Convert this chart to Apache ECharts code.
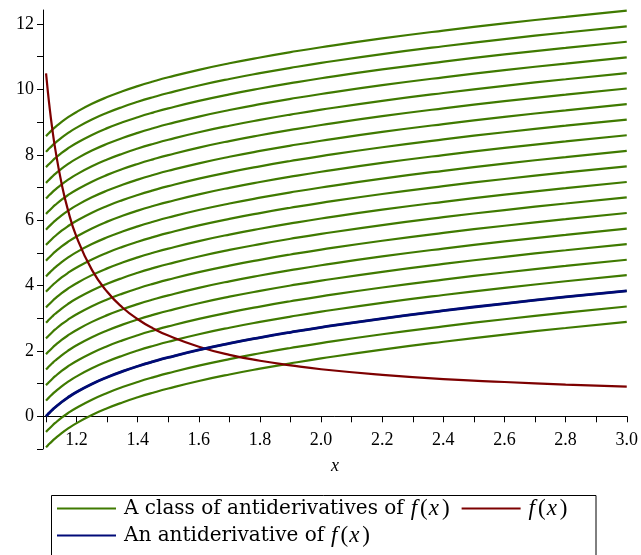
<!DOCTYPE html>
<html>
<head>
<meta charset="utf-8">
<script src="https://cdn.jsdelivr.net/npm/echarts@6/dist/echarts.min.js"></script>
<style>
html, body { margin: 0; padding: 0; background: #fff; }
#chart { width: 641px; height: 555px; }
</style>
</head>
<body>
<div id="chart"></div>
<script>
// sample points along x
var xs = [1.1, 1.105, 1.11, 1.12, 1.13, 1.15, 1.17, 1.2, 1.25, 1.3, 1.35, 1.4, 1.45, 1.5, 1.6, 1.7, 1.8, 1.9, 2.0, 2.2, 2.4, 2.6, 2.8, 3.0];
// the antiderivative (blue), starts at 0
var anti = [0, 0.051, 0.100, 0.192, 0.277, 0.430, 0.565, 0.742, 0.989, 1.196, 1.374, 1.531, 1.672, 1.801, 2.030, 2.230, 2.408, 2.571, 2.721, 2.991, 3.231, 3.450, 3.651, 3.839];
// f(x) (dark red)
var fvals = [10.49, 10.02, 9.58, 8.82, 8.18, 7.16, 6.37, 5.48, 4.48, 3.81, 3.33, 2.97, 2.69, 2.47, 2.13, 1.88, 1.70, 1.56, 1.44, 1.27, 1.14, 1.05, 0.97, 0.91];
// vertical shifts of the green family
var shifts = [-0.95, -0.48, 0, 0.48, 0.95, 1.43, 1.9, 2.38, 2.86, 3.33, 3.81, 4.28, 4.76, 5.24, 5.71, 6.19, 6.66, 7.14, 7.62, 8.09, 8.57];
// ticks and tick labels
var xLabels = [1.2, 1.4, 1.6, 1.8, 2.0, 2.2, 2.4, 2.6, 2.8, 3.0];
var xTicks = [1.1, 1.2, 1.3, 1.4, 1.5, 1.6, 1.7, 1.8, 1.9, 2.0, 2.1, 2.2, 2.3, 2.4, 2.5, 2.6, 2.7, 2.8, 2.9, 3.0];
var yLabels = [0, 2, 4, 6, 8, 10, 12];
var yTicks = [-1, 0, 1, 2, 3, 4, 5, 6, 7, 8, 9, 10, 11, 12];

var NAME_CLASS = 'A class of antiderivatives of f(x)';
var NAME_F = 'f(x)';
var NAME_ANTI = 'An antiderivative of f(x)';

var SERIF = 'Liberation Serif';
var LEG_FONT = 'DejaVu Serif';
var GREEN = '#3f7a00';
var RED = '#7d0000';
var BLUE = '#000a78';

var Y_MIN = -1, Y_MAX = 12.43;
var GRID_TOP = 10, GRID_BOTTOM = 106;

var chart = echarts.init(document.getElementById('chart'));

var series = [];
for (var k = 0; k < shifts.length; k++) {
	var d = [];
	for (var i = 0; i < xs.length; i++) {
		d.push([xs[i], anti[i] + shifts[k]]);
	}
	series.push({
		name: NAME_CLASS,
		type: 'line',
		data: d,
		symbol: 'none',
		smooth: true,
		lineStyle: {color: GREEN, width: 2.2},
		itemStyle: {color: GREEN}
	});
}
series.push({
	name: NAME_F,
	type: 'line',
	data: xs.map(function(x, i){ return [x, fvals[i]]; }),
	symbol: 'none',
	smooth: true,
	lineStyle: {color: RED, width: 2.2},
	itemStyle: {color: RED}
});
series.push({
	name: NAME_ANTI,
	type: 'line',
	data: xs.map(function(x, i){ return [x, anti[i]]; }),
	symbol: 'none',
	smooth: true,
	lineStyle: {color: BLUE, width: 2.8},
	itemStyle: {color: BLUE}
});

var legendText = {
	fontFamily: LEG_FONT,
	fontSize: 20,
	color: '#000',
	rich: {
		t: {fontFamily: LEG_FONT, fontSize: 20, color: '#000', padding: [0, 7, 0, 3]},
		f0: {fontFamily: SERIF, fontStyle: 'italic', fontSize: 23, color: '#000', padding: [0, 3, 0, 3]},
		f: {fontFamily: SERIF, fontStyle: 'italic', fontSize: 23, color: '#000', padding: [0, 3, 0, 0]},
		i: {fontFamily: SERIF, fontStyle: 'italic', fontSize: 23, color: '#000', padding: [0, 3, 0, 1]},
		n: {fontFamily: SERIF, fontSize: 23, color: '#000'}
	}
};
function legendFmt(name){
	var head = name.replace(' f(x)', '').replace('f(x)', '');
	if (head) {
		return '{t|' + head + '}{f|f}{n|(}{i|x}{n|)}';
	}
	return '{f0|f}{n|(}{i|x}{n|)}';
}

// x axis sits on y = 0: shift it up from the grid bottom
var plotH = 555 - GRID_TOP - GRID_BOTTOM;
var zeroOffset = plotH * (0 - Y_MIN) / (Y_MAX - Y_MIN);

var option = {
	animation: false,
	backgroundColor: '#fff',
	grid: {left: 43, right: 8, top: GRID_TOP, bottom: GRID_BOTTOM},
	xAxis: {
		type: 'value',
		min: 1.09,
		max: 3.0,
		offset: -zeroOffset,
		name: 'x',
		nameLocation: 'middle',
		nameGap: 41,
		nameTextStyle: {fontFamily: SERIF, fontStyle: 'italic', fontSize: 18, color: '#000'},
		axisLine: {show: true, onZero: false, lineStyle: {color: '#000', width: 1}},
		axisTick: {show: true, length: 6, customValues: xTicks, lineStyle: {color: '#000'}},
		axisLabel: {
			customValues: xLabels,
			margin: 15,
			fontFamily: SERIF,
			fontSize: 18,
			color: '#000',
			formatter: function(v){ return v.toFixed(1); }
		},
		splitLine: {show: false}
	},
	yAxis: {
		type: 'value',
		min: Y_MIN,
		max: Y_MAX,
		axisLine: {show: true, lineStyle: {color: '#000', width: 1}},
		axisTick: {show: true, length: 6, customValues: yTicks, lineStyle: {color: '#000'}},
		axisLabel: {customValues: yLabels, margin: 9, fontFamily: SERIF, fontSize: 18, color: '#000'},
		splitLine: {show: false}
	},
	legend: [
		{
			left: 57,
			top: 497,
			padding: 0,
			itemGap: 12,
			icon: 'rect',
			itemWidth: 59,
			itemHeight: 2,
			data: [NAME_CLASS, NAME_F],
			formatter: legendFmt,
			textStyle: legendText
		},
		{
			left: 57,
			top: 524,
			padding: 0,
			icon: 'rect',
			itemWidth: 59,
			itemHeight: 2,
			data: [NAME_ANTI],
			formatter: legendFmt,
			textStyle: legendText
		}
	],
	graphic: [
		{
			type: 'rect',
			shape: {x: 51.5, y: 495.5, width: 544.5, height: 100},
			style: {fill: null, stroke: '#000', lineWidth: 1},
			silent: true
		}
	],
	series: series
};
chart.setOption(option);
</script>
</body>
</html>
